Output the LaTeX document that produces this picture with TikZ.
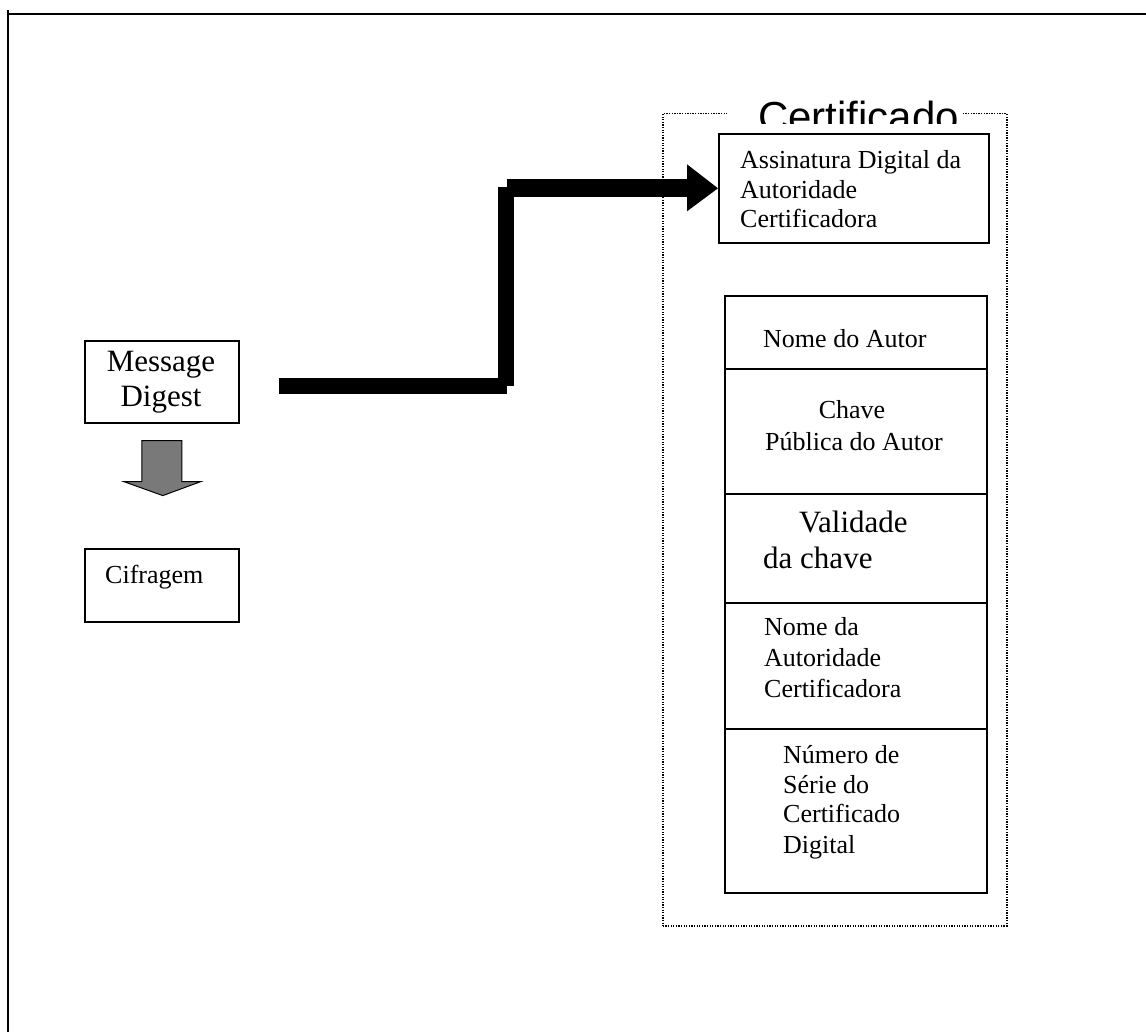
\documentclass[tikz,border=0pt]{standalone}
\usepackage{fontspec}
\setmainfont{Liberation Serif}
\newfontfamily\arialfont{Liberation Sans}
\usetikzlibrary{calc}
\begin{document}
\begin{tikzpicture}[x=1pt,y=-1pt,
  box/.style={draw=black,line width=1.6pt,fill=white,inner sep=0pt,anchor=north west},
  certframe/.style={draw=black,line width=1.5pt,dash pattern=on 1.3pt off 1.3pt,inner sep=0pt,anchor=north west},
  txt/.style={inner sep=0pt,anchor=base west,font=\fontsize{26}{30}\selectfont},
  ctxt/.style={txt,anchor=base},
  bigtxt/.style={txt,font=\fontsize{31}{35}\selectfont},
  cbigtxt/.style={bigtxt,anchor=base},
  thickbar/.style={fill=black},
  grayarrow/.style={fill=gray!95!black,draw=black,line width=1pt,line join=miter}]
\useasboundingbox (0,0) rectangle (1146,1032);

% page frame (top and left rules)
\draw[line width=2.4pt] (8,14) -- (1146,14);
\draw[line width=2pt] (8,10) -- (8,1032);

% certificate frame with its title
\node[certframe,minimum width=344pt,minimum height=812pt] (cert) at (662,113) {};
\fill[white] (727,106) rectangle (963,124);
\begin{scope}
  \clip (727,80) rectangle (963,124);
  \node[inner sep=0pt,anchor=base west,font=\arialfont\fontsize{42}{42}\selectfont] (title) at (758,132) {Certificado};
\end{scope}

% signature box
\node[box,minimum width=270pt,minimum height=109pt] (sig) at (718,133) {};
\node[txt] (sigA) at (740,169) {Assinatura Digital da};
\node[txt] (sigB) at (740,199) {Autoridade};
\node[txt] (sigC) at (740,228) {Certificadora};

% certificate fields
\node[box,minimum width=262pt,minimum height=73pt]  (f1) at (724,295) {};
\node[box,minimum width=262pt,minimum height=125pt] (f2) at (724,368) {};
\node[box,minimum width=262pt,minimum height=109pt] (f3) at (724,493) {};
\node[box,minimum width=262pt,minimum height=126pt] (f4) at (724,602) {};
\node[box,minimum width=262pt,minimum height=164pt] (f5) at (724,728) {};

\node[txt] (f1a) at (763,348) {Nome do Autor};
\node[ctxt] (f2a) at (852,418) {Chave};
\node[ctxt] (f2b) at (854,450) {Pública do Autor};
\node[bigtxt] (f3a) at (799,532) {Validade};
\node[bigtxt] (f3b) at (763,568) {da chave};
\node[txt] (f4a) at (764,635) {Nome da};
\node[txt] (f4b) at (764,666) {Autoridade};
\node[txt] (f4c) at (764,697) {Certificadora};
\node[txt] (f5a) at (783,763) {Número de};
\node[txt] (f5b) at (783,793) {Série do};
\node[txt] (f5c) at (783,822) {Certificado};
\node[txt] (f5d) at (783,853) {Digital};

% left column
\node[box,minimum width=154pt,minimum height=82pt] (md) at (84,340) {};
\node[cbigtxt] (mdA) at (161,371) {Message};
\node[cbigtxt] (mdB) at (161,406) {Digest};
\node[box,minimum width=154pt,minimum height=73pt] (cif) at (84,548) {};
\node[txt] (cifA) at (105,583) {Cifragem};

% gray block arrow from the digest to the encryption step
\coordinate (g0) at ($(md.south)+(0,17)$);
\filldraw[grayarrow] ($(g0)+(-20,0)$) -- ($(g0)+(20,0)$) -- ($(g0)+(20,41)$) -- ($(g0)+(39,41)$)
  -- ($(g0)+(1,55)$) -- ($(g0)+(-38,41)$) -- ($(g0)+(-20,41)$) -- cycle;

% thick stepped arrow from the digest to the signature
\coordinate (s0) at ($(md.east)+(39,4)$);
\coordinate (s1) at (s0 -| 507,0);
\coordinate (s2) at (506,187);
\coordinate (s3) at ($(sig.west)+(-31,0)$);
\fill[thickbar] ($(s0)+(0,-8)$) rectangle ($(s1)+(0,8)$);
\fill[thickbar] ($(s2)+(-8,0)$) rectangle (514,386);
\fill[thickbar] (507,179) rectangle ($(s3)+(0,8.5)$);
\fill[thickbar] ($(s3)+(0,-24)$) -- (sig.west) -- ($(s3)+(0,23)$) -- cycle;
\end{tikzpicture}
\end{document}
